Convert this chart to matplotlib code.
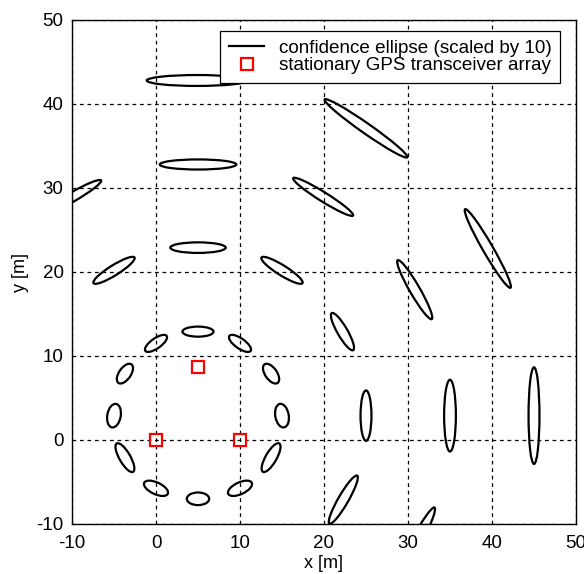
import numpy as np
import matplotlib
matplotlib.use("Agg")
import matplotlib.pyplot as plt
from matplotlib.patches import Ellipse
from matplotlib.lines import Line2D

plt.rcParams['font.family'] = ['Liberation Sans', 'DejaVu Sans']
plt.rcParams['axes.unicode_minus'] = False

# Ellipse centres (x, y) [m], semi-axes (scaled) and orientation [deg]
ell_x = [5.0, 0.0, 10.0, -3.7, 13.7, -5.0, 15.0, -3.7, 13.7, 0.0, 10.0, 5.0,
         5.0, -5.0, 15.0, 22.2, 25.0, 22.3,
         5.0, -10.0, 19.9, 30.8, 35.0, 31.0,
         4.9, 25.0, 39.5, 45.0]
ell_y = [12.9, 11.5, 11.5, 7.9, 7.9, 2.9, 2.9, -2.1, -2.1, -5.75, -5.75, -7.0,
         22.9, 20.2, 20.2, 12.9, 2.9, -7.1,
         32.8, 28.9, 28.95, 17.9, 2.9, -12.1,
         42.8, 37.1, 22.8, 2.9]
ell_a = [1.85, 1.55, 1.55, 1.35, 1.35, 1.42, 1.42, 1.95, 1.95, 1.55, 1.55, 1.33,
         3.3, 2.88, 2.88, 2.55, 3.0, 3.3,
         4.56, 4.0, 4.2, 4.05, 4.27, 4.6,
         6.0, 6.0, 5.4, 5.75]
ell_b = [0.6, 0.6, 0.6, 0.7, 0.7, 0.8, 0.8, 0.65, 0.65, 0.7, 0.7, 0.75,
         0.63, 0.6, 0.6, 0.6, 0.65, 0.6,
         0.6, 0.55, 0.55, 0.6, 0.7, 0.6,
         0.65, 0.6, 0.6, 0.65]
ell_ang = [0, 35, -35, 55, -55, 80, 100, -60, 60, -25, 25, 0,
           0, 32, -32, -60, 90, 60,
           0, 30, -32, -60, 90, 62,
           0, -35, -60, 90]

# Stationary GPS transceivers
gps_x = [0.0, 10.0, 5.0]
gps_y = [0.0, 0.0, 8.7]

xticks = [-10, 0, 10, 20, 30, 40, 50]
yticks = [-10, 0, 10, 20, 30, 40, 50]

fig = plt.figure(figsize=(5.84, 5.74), dpi=100)
ax = fig.add_axes([72/584, 50/574, 504/584, 504/574])

for x, y, a, b, t in zip(ell_x, ell_y, ell_a, ell_b, ell_ang):
    ax.add_patch(Ellipse((x, y), 2*a, 2*b, angle=t, fill=False,
                         edgecolor='black', lw=1.6, zorder=3))

ax.plot(gps_x, gps_y, 's', mfc='none', mec='red', ms=9, mew=1.6, zorder=4,
        linestyle='none')

ax.set_xlim(-10, 50)
ax.set_ylim(-10, 50)
ax.set_xticks(xticks)
ax.set_yticks(yticks)
ax.grid(True, linestyle=(0, (3, 3)), color='black', lw=0.9)
ax.set_axisbelow(True)
ax.tick_params(direction='in', length=0, labelsize=13.5)
ax.tick_params(axis='x', pad=8)
ax.tick_params(axis='y', pad=6)
for s in ax.spines.values():
    s.set_linewidth(1.0)
ax.set_xlabel('x [m]', fontsize=13, labelpad=2)
ax.set_ylabel('y [m]', fontsize=13, labelpad=5)

handles = [Line2D([], [], color='black', lw=1.6),
           Line2D([], [], marker='s', mfc='none', mec='red', ms=9, mew=1.6,
                  linestyle='none')]
leg = ax.legend(handles, ['confidence ellipse (scaled by 10)',
                          'stationary GPS transceiver array'],
                loc='upper right', bbox_to_anchor=(0.968, 0.978),
                fontsize=13.6, frameon=True, fancybox=False, framealpha=1,
                edgecolor='black', borderpad=0.45, labelspacing=0.02,
                handlelength=1.9, handletextpad=0.75, borderaxespad=0)
leg.get_frame().set_linewidth(0.9)

fig.savefig('out.png', dpi=100)
